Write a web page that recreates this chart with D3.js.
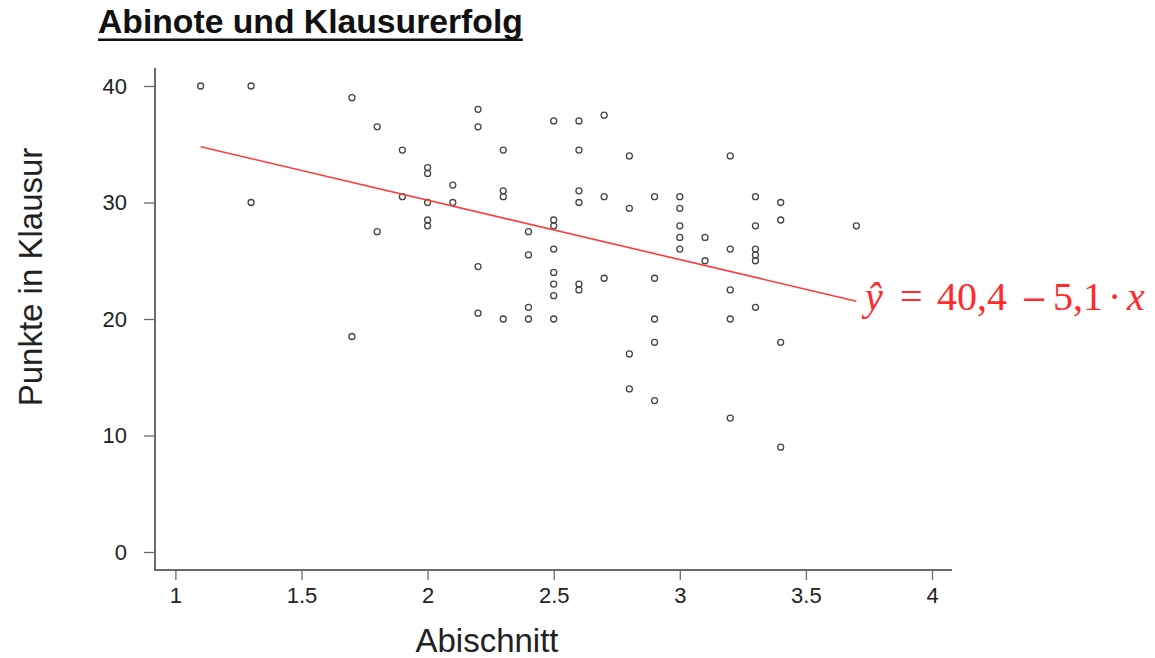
<!DOCTYPE html>
<html><head><meta charset="utf-8">
<script src="https://cdn.jsdelivr.net/npm/d3@7/dist/d3.min.js"></script>
<style>body{margin:0;background:#fff;} svg{display:block;}</style>
</head><body>
<svg id="chart" width="1155" height="658"></svg>
<script>
const abischnitt = [1.1,1.3,1.3,1.7,1.7,1.8,1.8,1.9,1.9,2.0,2.0,2.0,2.0,2.0,2.1,2.1,
 2.2,2.2,2.2,2.2,2.3,2.3,2.3,2.3,2.4,2.4,2.4,2.4,
 2.5,2.5,2.5,2.5,2.5,2.5,2.5,2.5,2.6,2.6,2.6,2.6,2.6,2.6,2.7,2.7,2.7,
 2.8,2.8,2.8,2.8,2.9,2.9,2.9,2.9,2.9,3.0,3.0,3.0,3.0,3.0,3.1,3.1,
 3.2,3.2,3.2,3.2,3.2,3.3,3.3,3.3,3.3,3.3,3.3,3.4,3.4,3.4,3.4,3.7];
const punkte = [40,40,30,39,18.5,36.5,27.5,34.5,30.5,33,32.5,30,28.5,28,31.5,30,
 38,36.5,24.5,20.5,34.5,31,30.5,20,27.5,25.5,21,20,
 37,28.5,28,26,24,23,22,20,37,34.5,31,30,23,22.5,37.5,30.5,23.5,
 34,29.5,17,14,30.5,23.5,20,18,13,30.5,29.5,28,27,26,27,25,
 34,26,22.5,20,11.5,30.5,28,26,25.5,25,21,30,28.5,18,9,28];
const xTicks = [1,1.5,2,2.5,3,3.5,4];
const xTickLabels = ["1","1.5","2","2.5","3","3.5","4"];
const yTicks = [0,10,20,30,40];
const intercept = 40.4, slope = -5.1;
const lineRange = [1.1, 3.7];
const eqParts = [
  {t:"ŷ", italic:true, x:865},
  {t:"=", italic:false, x:900},
  {t:"40,4", italic:false, x:937},
  {t:"−", italic:false, x:1021, alt:true},
  {t:"5,1", italic:false, x:1053},
  {t:"·", italic:false, x:1108},
  {t:"x", italic:true, x:1127}
];

const svg = d3.select("#chart");
const x = d3.scaleLinear().domain([1,4]).range([175.4,932]);
const y = d3.scaleLinear().domain([0,40]).range([552,86]);
const font = "'Liberation Sans', Arial, sans-serif";
const axisColor = "#6a6a6a";

// title
const title = svg.append("text").attr("x",98).attr("y",33)
  .attr("font-family",font).attr("font-weight","bold").attr("font-size",33.7)
  .attr("fill","#111").text("Abinote und Klausurerfolg");
const tb = title.node().getBBox();
svg.append("rect").attr("x",tb.x).attr("y",38.5).attr("width",tb.width).attr("height",2.5).attr("fill","#111");

// axes
const xAxis = svg.append("g").attr("transform","translate(0,570)")
  .call(d3.axisBottom(x).tickValues(xTicks).tickFormat((d,i)=>xTickLabels[i]).tickSize(10).tickSizeOuter(0).tickPadding(7));
xAxis.select(".domain").remove();
const yAxis = svg.append("g").attr("transform","translate(155,0)")
  .call(d3.axisLeft(y).tickValues(yTicks).tickSize(11).tickSizeOuter(0).tickPadding(17));
yAxis.select(".domain").remove();
[xAxis,yAxis].forEach(g=>{
  g.selectAll("line").attr("stroke",axisColor).attr("stroke-width",1.3);
  g.selectAll("text").attr("font-family",font).attr("font-size",22).attr("fill","#222");
});
svg.append("line").attr("x1",155).attr("x2",952).attr("y1",570).attr("y2",570).attr("stroke",axisColor).attr("stroke-width",2);
svg.append("line").attr("x1",155).attr("x2",155).attr("y1",68).attr("y2",571).attr("stroke",axisColor).attr("stroke-width",2);

// axis titles
svg.append("text").attr("x",487).attr("y",652).attr("text-anchor","middle")
  .attr("font-family",font).attr("font-size",33).attr("fill","#222").text("Abischnitt");
svg.append("text").attr("transform","translate(42,277) rotate(-90)").attr("text-anchor","middle")
  .attr("font-family",font).attr("font-size",33).attr("fill","#222").text("Punkte in Klausur");

// points
svg.append("g").selectAll("circle").data(abischnitt.map((d,i)=>[d,punkte[i]])).join("circle")
  .attr("cx",d=>x(d[0])).attr("cy",d=>y(d[1])).attr("r",3)
  .attr("fill","none").attr("stroke","#444").attr("stroke-width",1.3);

// regression line
svg.append("line")
  .attr("x1",x(lineRange[0])).attr("y1",y(intercept+slope*lineRange[0]))
  .attr("x2",x(lineRange[1])).attr("y2",y(intercept+slope*lineRange[1]))
  .attr("stroke","#ff3b3b").attr("stroke-width",1.6);

// equation
const eq = svg.append("text").attr("y",310)
  .attr("font-family","'Liberation Serif','Times New Roman',serif").attr("font-size",40).attr("fill","#ff2a2a");
eq.selectAll("tspan").data(eqParts).join("tspan")
  .attr("x",d=>d.x).attr("font-style",d=>d.italic?"italic":"normal")
  .attr("font-family",d=>d.alt?"'DejaVu Serif',serif":null)
  .attr("font-size",d=>d.alt?32:null)
  .text(d=>d.t);
</script>
</body></html>
